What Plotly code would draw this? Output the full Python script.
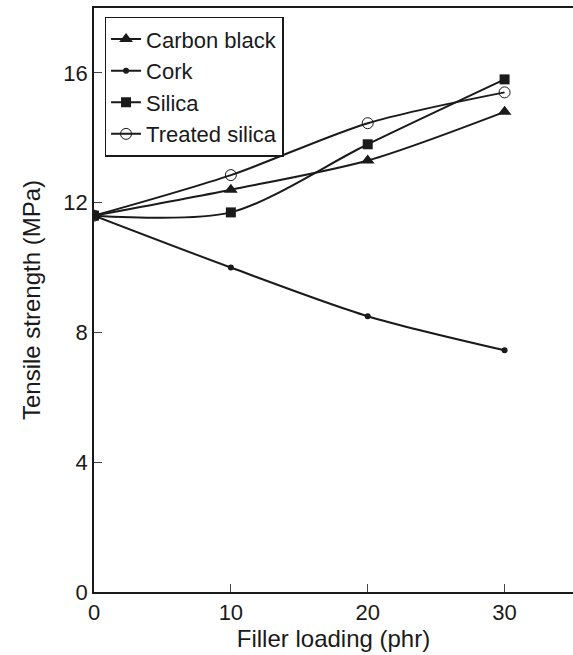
import plotly.graph_objects as go

loading = [0, 10, 20, 30]
carbon_black = [11.6, 12.4, 13.3, 14.8]
cork = [11.6, 10.0, 8.5, 7.45]
silica = [11.6, 11.7, 13.8, 15.8]
treated_silica = [11.6, 12.85, 14.45, 15.4]

x_ticks = [0, 10, 20, 30]
y_ticks = [0, 4, 8, 12, 16]

series = [
    ("Carbon black", carbon_black, dict(symbol="triangle-up", size=12, color="#1a1a1a")),
    ("Cork", cork, dict(symbol="circle", size=6, color="#1a1a1a")),
    ("Silica", silica, dict(symbol="square", size=10, color="#1a1a1a")),
    ("Treated silica", treated_silica, dict(symbol="circle-open", size=11, color="#1a1a1a", line=dict(width=1))),
]

fig = go.Figure()
for name, vals, marker in series:
    fig.add_trace(go.Scatter(
        x=loading, y=vals, name=name, mode="lines+markers",
        line=dict(color="#1a1a1a", width=2, shape="spline", smoothing=0.8),
        marker=marker,
    ))

fam = "Liberation Sans, Arial, sans-serif"
tick_font = dict(family=fam, size=22, color="#1a1a1a")
title_font = dict(family=fam, size=24, color="#1a1a1a")
fig.update_layout(
    width=573, height=655,
    margin=dict(l=94, r=0, t=8, b=63),
    plot_bgcolor="white", paper_bgcolor="white",
    font=dict(family=fam, size=20, color="#1a1a1a"),
    showlegend=True,
    legend=dict(x=0.022, y=0.985, xanchor="left", yanchor="top",
                bordercolor="#1a1a1a", borderwidth=1.5, bgcolor="white",
                font=dict(family=fam, size=22, color="#1a1a1a"),
                tracegroupgap=0, itemwidth=30),
    xaxis=dict(range=[0, 35], tickvals=x_ticks, ticks="inside", ticklen=8,
               showgrid=False, zeroline=False, showline=True, linecolor="#1a1a1a",
               linewidth=1.5, mirror=True, tickfont=tick_font,
               title=dict(text="Filler loading (phr)", standoff=2, font=title_font)),
    yaxis=dict(range=[0, 18], tickvals=y_ticks, ticks="inside", ticklen=8,
               showgrid=False, zeroline=False, showline=True, linecolor="#1a1a1a",
               linewidth=1.5, tickfont=tick_font,
               title=dict(text="Tensile strength (MPa)", standoff=16, font=title_font)),
)

fig.write_html("out.html")
